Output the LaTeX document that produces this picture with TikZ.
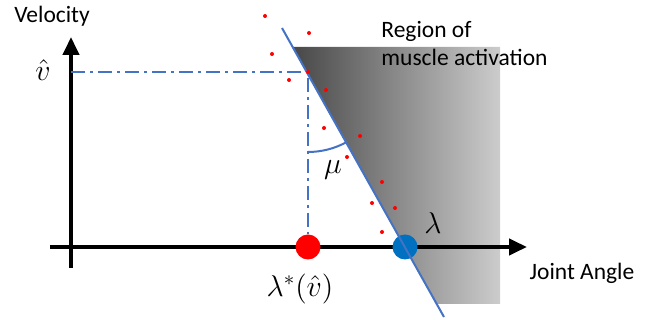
\RequirePackage{fix-cm}
\documentclass[tikz,border=0pt]{standalone}
\usepackage{fontspec}
\setmainfont{Carlito}
\usepackage{amsmath}
\usepackage{tikz}
\usetikzlibrary{arrows.meta, positioning, calc}
\definecolor{lineblue}{RGB}{68,114,196}
\definecolor{dotblue}{RGB}{0,112,192}
\definecolor{dotred}{RGB}{255,0,0}
\tikzset{
  axis/.style={line width=2pt, black, -{Triangle[length=9pt, width=8pt]}},
  guide/.style={line width=1pt, color=lineblue,
    dash pattern=on 7pt off 2.5pt on 1.5pt off 2.5pt},
  bound/.style={line width=1pt, color=lineblue},
  marker/.style={circle, minimum size=12.5pt, inner sep=0pt},
  sample/.style={circle, fill=dotred, minimum size=2pt, inner sep=0pt},
  lbl/.style={font=\fontsize{11.75}{14}\selectfont, inner sep=1pt},
  mathlbl/.style={font=\fontsize{15}{17}\selectfont, inner sep=1pt}
}

\begin{document}
\begin{tikzpicture}[x=0.5pt, y=0.5pt]
  \useasboundingbox (0,0) rectangle (652,320);

  % Switching line
  \coordinate (ltop) at (282,292);
  \coordinate (lbot) at (444,3);

  % Region of muscle activation
  \shade[left color=black!72, right color=black!20]
    ($(ltop)!0.0657!(lbot)$) -- (500,273) -- (500,16) -- ($(ltop)!0.955!(lbot)$) -- cycle;
  \node[lbl, align=left, anchor=north west] (region) at (379,301)
    {Region of\\muscle activation};

  % Axes
  \coordinate (yfoot) at (71,52);
  \coordinate (yhead) at (71,283);
  \coordinate (xfoot) at (50,73);
  \coordinate (xhead) at (527,73);
  \draw[axis] (yfoot) -- (yhead);
  \draw[axis] (xfoot) -- (xhead);
  \node[lbl] (vel) at (52,304) {Velocity};
  \node[lbl] (joint) at (582,47) {Joint Angle};

  % Guides
  \coordinate (vlev) at (71,248);
  \coordinate (corner) at (308,248);
  \node[marker, fill=dotred] (lstar) at (308,73) {};
  \draw[guide] (vlev) -- (corner) -- (lstar);
  \node[marker, fill=dotblue] (lam) at (405,73) {};

  \draw[bound] (ltop) -- (lbot);
  \draw[bound] ($(corner)+(0,-80)$) arc[start angle=270, end angle=299, radius=80];

  % Samples
  \foreach \px/\py in {265/304, 309/287, 272/266, 289/240, 308/248, 326/230,
      324/192, 360/184, 347/163, 382/138, 372/117, 395/112, 382/88}
    \node[sample] at (\px,\py) {};

  % Labels
  \node[mathlbl] (vhat) at (43,250) {$\hat{v}$};
  \node[mathlbl] (mu) at (333,150) {$\mu$};
  \node[mathlbl] (lamlbl) at (433,97) {$\lambda$};
  \node[mathlbl] (lstarlbl) at (300,31) {$\lambda^{*}(\hat{v})$};
\end{tikzpicture}
\end{document}
